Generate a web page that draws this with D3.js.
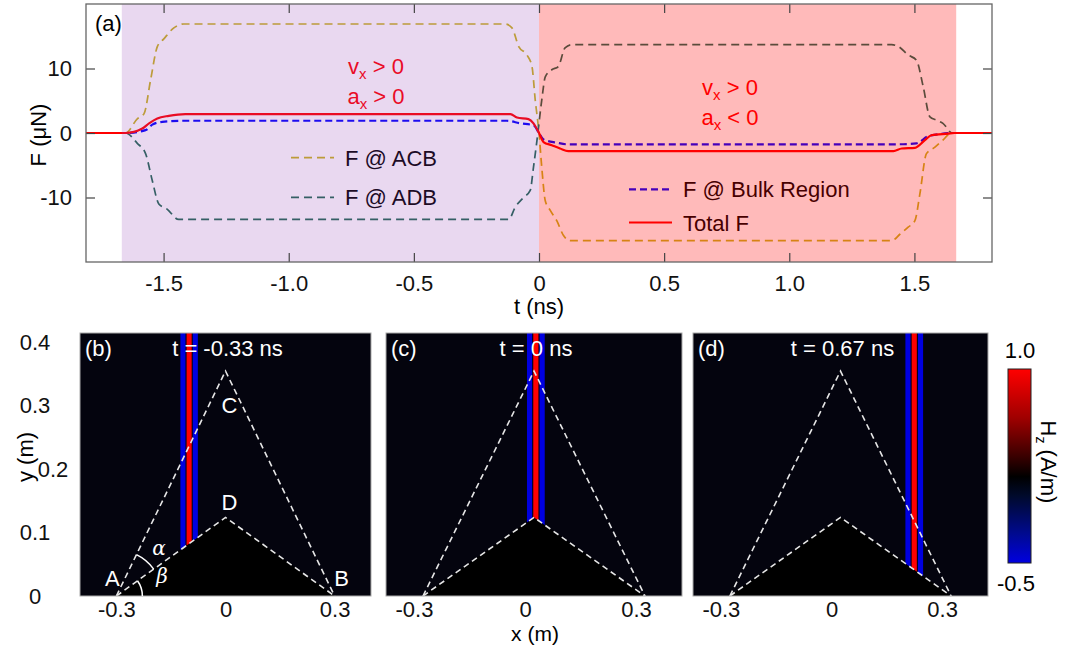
<!DOCTYPE html>
<html>
<head>
<meta charset="utf-8">
<script src="https://cdn.jsdelivr.net/npm/d3@7"></script>
<style>
  body { margin: 0; background: #fff; }
  svg text { font-family: "Liberation Sans", Arial, sans-serif; }
</style>
</head>
<body>
<script>
// ---- panel (a): force vs time, [t (ns), F (uN)] ----
var acb = [[-1.81, 0], [-1.652, 0], [-1.605, 2.2], [-1.578, 3.0], [-1.552, 8.2], [-1.525, 13.4],
  [-1.499, 14.6], [-1.459, 16.3], [-1.419, 16.9], [-0.134, 16.9], [-0.108, 16.3], [-0.081, 13.4],
  [-0.048, 12.1], [-0.028, 10.3], [-0.015, 5.1], [0, 0], [0.011, -5.3], [0.025, -10.5],
  [0.045, -12.0], [0.071, -13.6], [0.098, -15.9], [0.124, -16.7], [1.409, -16.7], [1.442, -15.7],
  [1.475, -14.6], [1.502, -13.6], [1.522, -9.4], [1.548, -3.2], [1.582, -2.2], [1.614, -1.1],
  [1.647, 0], [1.81, 0]]
var adb = [[-1.81, 0], [-1.652, 0], [-1.605, -1.6], [-1.572, -3.2], [-1.545, -7.4], [-1.519, -11.0],
  [-1.486, -11.8], [-1.44, -13.4], [-0.121, -13.4], [-0.095, -11.5], [-0.062, -10.0], [-0.035, -8.9],
  [-0.022, -5.3], [-0.008, -1.1], [0.011, 5.1], [0.025, 8.7], [0.051, 9.8], [0.077, 10.3],
  [0.104, 13.2], [0.131, 13.7], [1.409, 13.7], [1.436, 13.4], [1.475, 12.1], [1.508, 11.3],
  [1.535, 7.2], [1.562, 2.5], [1.588, 2.0], [1.614, 1.5], [1.651, 0], [1.81, 0]]
var bulk = [[-1.81, 0], [-1.652, 0], [-1.572, 0.44], [-1.545, 1.3], [-1.505, 1.73], [-1.426, 1.9],
  [-0.128, 1.9], [-0.075, 1.5], [-0.022, 1.2], [0, 0], [0.018, -1.0], [0.071, -1.5], [0.111, -1.75],
  [1.429, -1.75], [1.508, -1.6], [1.555, -0.5], [1.595, -0.2], [1.65, 0], [1.81, 0]]
var total = [[-1.81, 0], [-1.652, 0], [-1.585, 0.7], [-1.558, 1.5], [-1.525, 2.26], [-1.479, 2.66],
  [-1.413, 2.93], [-0.114, 2.93], [-0.088, 2.4], [-0.042, 2.15], [-0.022, 1.5], [0, 0],
  [0.018, -1.4], [0.051, -1.9], [0.084, -2.4], [0.117, -2.8], [1.416, -2.8], [1.449, -2.4],
  [1.502, -2.3], [1.542, -1.1], [1.568, -0.35], [1.634, -0.1], [1.66, 0], [1.81, 0]]

var tTicks = [-1.5, -1.0, -0.5, 0, 0.5, 1.0, 1.5]
var fTicks = [-10, 0, 10]
var phaseStart = [-1.667, 0]
var phaseEnd = [0, 1.667]
var seriesNames = ['F @ ACB', 'F @ ADB', 'F @ Bulk Region', 'Total F']

// ---- panels (b)-(d): field snapshots ----
var snapLabels = ['(b)', '(c)', '(d)']
var snapTimes = ['-0.33', '0', '0.67']
var pulseX = [-0.1, 0.005, 0.2]
var stripeOffset = [-0.017, 0, 0.017]
var stripeValue = [-0.5, 1.0, -0.5]
var stripeWidth = 0.014
var outerEdge = [[-0.3, 0], [0, 0.355], [0.3, 0]]   // A C B
var innerEdge = [[-0.3, 0], [0, 0.124], [0.3, 0]]   // A D B
var xmTicks = [-0.3, 0, 0.3]
var ymTicks = [0, 0.1, 0.2, 0.3, 0.4]
var hzValues = [1.0, 0.625, 0.325, 0.167, 0.025, -0.275, -0.5]
var hzColors = ['#ff0000', '#a00000', '#3a0000', '#000000', '#000a2a', '#000a90', '#0000e0']

var colors = {
  acb: '#c8b41c',
  adb: '#1f6852',
  bulk: '#0000ff',
  total: '#ff0000',
  purple: 'rgb(145,60,180)',
  pink: 'rgb(255,0,0)'
}
var FS = 22

var svg = d3.select('body').append('svg')
  .attr('width', 1075).attr('height', 645)

// ================= panel (a) =================
var A = { left: 86, right: 992, top: 4, bottom: 262 }
var x = d3.scaleLinear().domain([-1.81, 1.81]).range([A.left, A.right])
var y = d3.scaleLinear().domain([-20, 20]).range([A.bottom, A.top])

var pa = svg.append('g')
var line = d3.line()
  .x(function (d) { return x(d[0]) })
  .y(function (d) { return y(d[1]) })
  .curve(d3.curveMonotoneX)

var series = [
  { data: acb, color: colors.acb, dash: '8,5', w: 1.7 },
  { data: adb, color: colors.adb, dash: '8,5', w: 1.7 },
  { data: bulk, color: colors.bulk, dash: '7,4', w: 2.2 },
  { data: total, color: colors.total, dash: null, w: 2.2 }
]

pa.selectAll('path.curve').data(series).enter().append('path')
  .attr('class', 'curve')
  .attr('d', function (d) { return line(d.data) })
  .attr('fill', 'none')
  .attr('stroke', function (d) { return d.color })
  .attr('stroke-width', function (d) { return d.w })
  .attr('stroke-dasharray', function (d) { return d.dash })

// legend
var legendPos = [[291, 157.7], [291, 197.3], [629, 189.4], [629, 222.5]]
series.forEach(function (s, i) {
  var p = legendPos[i]
  pa.append('line')
    .attr('x1', p[0]).attr('x2', p[0] + 43)
    .attr('y1', p[1]).attr('y2', p[1])
    .attr('stroke', s.color).attr('stroke-width', s.w)
    .attr('stroke-dasharray', s.dash)
  pa.append('text')
    .attr('x', p[0] + 54).attr('y', p[1] + 8)
    .attr('font-size', FS).attr('fill', '#000')
    .text(seriesNames[i])
})

// motion annotations
function motion (cx, by, sign) {
  var t1 = pa.append('text').attr('x', cx).attr('y', by)
    .attr('text-anchor', 'middle').attr('font-size', FS).attr('fill', '#ff0000')
  t1.append('tspan').text('v')
  t1.append('tspan').attr('font-size', 15).attr('dy', 5).text('x')
  t1.append('tspan').attr('dy', -5).text(' > 0')
  var t2 = pa.append('text').attr('x', cx).attr('y', by + 29.5)
    .attr('text-anchor', 'middle').attr('font-size', FS).attr('fill', '#ff0000')
  t2.append('tspan').text('a')
  t2.append('tspan').attr('font-size', 15).attr('dy', 5).text('x')
  t2.append('tspan').attr('dy', -5).text(' ' + sign + ' 0')
}
motion(376, 74, '>')
motion(730, 95, '<')

// translucent phase shading on top of the curves
pa.selectAll('rect.phase').data(phaseStart).enter().append('rect')
  .attr('class', 'phase')
  .attr('x', function (d) { return x(d) })
  .attr('width', function (d, i) { return x(phaseEnd[i]) - x(d) })
  .attr('y', A.top).attr('height', A.bottom - A.top)
  .attr('fill', function (d, i) { return i === 0 ? colors.purple : colors.pink })
  .attr('fill-opacity', function (d, i) { return i === 0 ? 0.2 : 0.27 })

function fmt1 (d) { return d === 0 ? '0' : d.toFixed(1) }

pa.append('g').attr('transform', 'translate(0,' + A.bottom + ')')
  .call(d3.axisBottom(x).tickValues(tTicks).tickFormat(fmt1)
    .tickSizeInner(-9).tickSizeOuter(0).tickPadding(13))
pa.append('g').attr('transform', 'translate(0,' + A.top + ')')
  .call(d3.axisTop(x).tickValues(tTicks).tickFormat('')
    .tickSizeInner(-9).tickSizeOuter(0))
pa.append('g').attr('transform', 'translate(' + A.left + ',0)')
  .call(d3.axisLeft(y).tickValues(fTicks).tickFormat(function (d) { return String(d) })
    .tickSizeInner(-9).tickSizeOuter(0).tickPadding(14))
pa.append('g').attr('transform', 'translate(' + A.right + ',0)')
  .call(d3.axisRight(y).tickValues(fTicks).tickFormat('')
    .tickSizeInner(-9).tickSizeOuter(0))
pa.selectAll('.domain').remove()
pa.selectAll('.tick line').attr('stroke', '#444').attr('stroke-width', 1.2)
pa.selectAll('.tick text').attr('font-size', FS).attr('fill', '#111')
  .style('font-family', '"Liberation Sans", Arial, sans-serif')

pa.append('rect')
  .attr('x', A.left).attr('y', A.top)
  .attr('width', A.right - A.left).attr('height', A.bottom - A.top)
  .attr('fill', 'none').attr('stroke', '#666').attr('stroke-width', 1.3)

pa.append('text').attr('x', 95).attr('y', 31).attr('font-size', FS).text('(a)')
pa.append('text').attr('x', 539).attr('y', 314).attr('text-anchor', 'middle')
  .attr('font-size', FS).text('t (ns)')
pa.append('text').attr('transform', 'translate(46,135) rotate(-90)')
  .attr('text-anchor', 'middle').attr('font-size', FS).text('F (\u03bcN)')

// ================= panels (b)-(d) =================
var hzColor = d3.scaleLinear().domain(hzValues).range(hzColors)
var B = { top: 333, bottom: 596 }
var frames = [[80, 371], [386, 682], [693, 988]]
var py = d3.scaleLinear().domain([0, 0.415]).range([B.bottom, B.top])

var defs = svg.append('defs')

frames.forEach(function (f, i) {
  var px = d3.scaleLinear().domain([-0.4, 0.4]).range(f)
  var g = svg.append('g')

  g.append('rect').attr('x', f[0]).attr('y', B.top)
    .attr('width', f[1] - f[0]).attr('height', B.bottom - B.top).attr('fill', '#000')

  // field region: everything above the A-D-B boundary
  var region = [[-0.4, 0.415], [0.4, 0.415], [0.4, 0]].concat(innerEdge.slice().reverse()).concat([[-0.4, 0]])
  var regionPts = region.map(function (d) { return [px(d[0]), py(d[1])] })
  defs.append('clipPath').attr('id', 'field' + i)
    .append('polygon').attr('points', regionPts.join(' '))
  var field = g.append('g').attr('clip-path', 'url(#field' + i + ')')
  field.append('polygon').attr('points', regionPts.join(' ')).attr('fill', '#04040e')

  field.selectAll('rect.stripe').data(stripeOffset).enter().append('rect')
    .attr('class', 'stripe')
    .attr('x', function (d) { return px(pulseX[i] + d - stripeWidth / 2) })
    .attr('width', px(stripeWidth) - px(0))
    .attr('y', B.top).attr('height', B.bottom - B.top)
    .attr('fill', function (d, j) { return hzColor(stripeValue[j]) })

  var edge = d3.line().x(function (d) { return px(d[0]) }).y(function (d) { return py(d[1]) })
  ;[outerEdge, innerEdge].forEach(function (e) {
    g.append('path').attr('d', edge(e)).attr('fill', 'none')
      .attr('stroke', '#e6e6e6').attr('stroke-width', 1.6).attr('stroke-dasharray', '6,4')
  })

  g.append('rect').attr('x', f[0]).attr('y', B.top)
    .attr('width', f[1] - f[0]).attr('height', B.bottom - B.top)
    .attr('fill', 'none').attr('stroke', '#aaa').attr('stroke-width', 1)

  g.append('text').attr('x', f[0] + 5).attr('y', 356)
    .attr('font-size', FS).attr('fill', '#fff').text(snapLabels[i])
  g.append('text').attr('x', px(0) + 2).attr('y', 356).attr('text-anchor', 'middle')
    .attr('font-size', FS).attr('fill', '#fff').text('t = ' + snapTimes[i] + ' ns')

  var ax = g.append('g').attr('transform', 'translate(0,' + B.bottom + ')')
    .call(d3.axisBottom(px).tickValues(xmTicks).tickFormat(fmt1)
      .tickSize(0).tickPadding(5))
  ax.select('.domain').remove()
  ax.selectAll('text').attr('font-size', FS).attr('fill', '#111')
    .attr('dx', i === 0 ? 0 : -9)
    .style('font-family', '"Liberation Sans", Arial, sans-serif')

  if (i === 0) {
    var ay = g.append('g').attr('transform', 'translate(' + f[0] + ',0)')
      .call(d3.axisLeft(py).tickValues(ymTicks).tickFormat(fmt1)
        .tickSize(0).tickPadding(45))
    ay.select('.domain').remove()
    ay.selectAll('text').attr('font-size', FS).attr('fill', '#111').attr('text-anchor', 'middle')
      .attr('dx', function (d) { return d === 0.2 ? 18 : 0 })
      .style('font-family', '"Liberation Sans", Arial, sans-serif')

    // vertex labels and angles
    var vA = [px(outerEdge[0][0]), py(outerEdge[0][1])]
    var vC = [px(outerEdge[1][0]), py(outerEdge[1][1])]
    var vD = [px(innerEdge[1][0]), py(innerEdge[1][1])]
    var vB = [px(outerEdge[2][0]), py(outerEdge[2][1])]
    var lab = [['A', vA[0] - 4, vA[1] - 10], ['B', vB[0] + 7, vB[1] - 10],
      ['C', vC[0] + 4, vC[1] + 42], ['D', vD[0] + 4, vD[1] - 7]]
    lab.forEach(function (l) {
      g.append('text').attr('x', l[1]).attr('y', l[2]).attr('text-anchor', 'middle')
        .attr('font-size', FS).attr('fill', '#fff').text(l[0])
    })
    var thC = Math.atan2(vA[1] - vC[1], vC[0] - vA[0])
    var thD = Math.atan2(vA[1] - vD[1], vD[0] - vA[0])
    var arcs = [[46, -thC, -thD], [26, -thD, 0]]
    arcs.forEach(function (a) {
      var p = d3.path()
      p.moveTo(vA[0] + a[0] * Math.cos(a[1]), vA[1] + a[0] * Math.sin(a[1]))
      p.arc(vA[0], vA[1], a[0], a[1], a[2], false)
      g.append('path').attr('d', p.toString()).attr('fill', 'none')
        .attr('stroke', '#fff').attr('stroke-width', 1.5)
    })
    g.append('text').attr('x', 159).attr('y', 555).attr('text-anchor', 'middle')
      .attr('font-size', 20).attr('font-style', 'italic').attr('fill', '#fff')
      .style('font-family', '"DejaVu Serif", serif').text('\u03b1')
    g.append('text').attr('x', 162).attr('y', 583).attr('text-anchor', 'middle')
      .attr('font-size', 20).attr('font-style', 'italic').attr('fill', '#fff')
      .style('font-family', '"DejaVu Serif", serif').text('\u03b2')
  }
})

svg.append('text').attr('x', 535).attr('y', 641).attr('text-anchor', 'middle')
  .attr('font-size', 21).text('x (m)')
svg.append('text').attr('transform', 'translate(33,457) rotate(-90)')
  .attr('text-anchor', 'middle').attr('font-size', FS).text('y (m)')

// ---- colour bar ----
var cb = { x: 1008, w: 23, top: 369, bottom: 563 }
var cbScale = d3.scaleLinear().domain([-0.5, 1.0]).range([cb.bottom, cb.top])
var grad = defs.append('linearGradient').attr('id', 'hzgrad')
  .attr('x1', 0).attr('x2', 0).attr('y1', 0).attr('y2', 1)
grad.selectAll('stop').data(hzValues).enter().append('stop')
  .attr('offset', function (d) { return (cbScale(d) - cb.top) / (cb.bottom - cb.top) })
  .attr('stop-color', function (d, i) { return hzColors[i] })
svg.append('rect').attr('x', cb.x).attr('y', cb.top)
  .attr('width', cb.w).attr('height', cb.bottom - cb.top)
  .attr('fill', 'url(#hzgrad)').attr('stroke', '#222').attr('stroke-width', 1)
svg.append('text').attr('x', cb.x + 12).attr('y', cbScale(1.0) - 11)
  .attr('text-anchor', 'middle').attr('font-size', FS).text('1.0')
svg.append('text').attr('x', cb.x + 8).attr('y', cbScale(-0.5) + 28)
  .attr('text-anchor', 'middle').attr('font-size', FS).text('-0.5')
var hl = svg.append('text').attr('transform', 'translate(1041,462) rotate(90)')
  .attr('text-anchor', 'middle').attr('font-size', FS)
hl.append('tspan').text('H')
hl.append('tspan').attr('font-size', 14).attr('dy', 5).text('z')
hl.append('tspan').attr('dy', -5).text(' (A/m)')
</script>
</body>
</html>
